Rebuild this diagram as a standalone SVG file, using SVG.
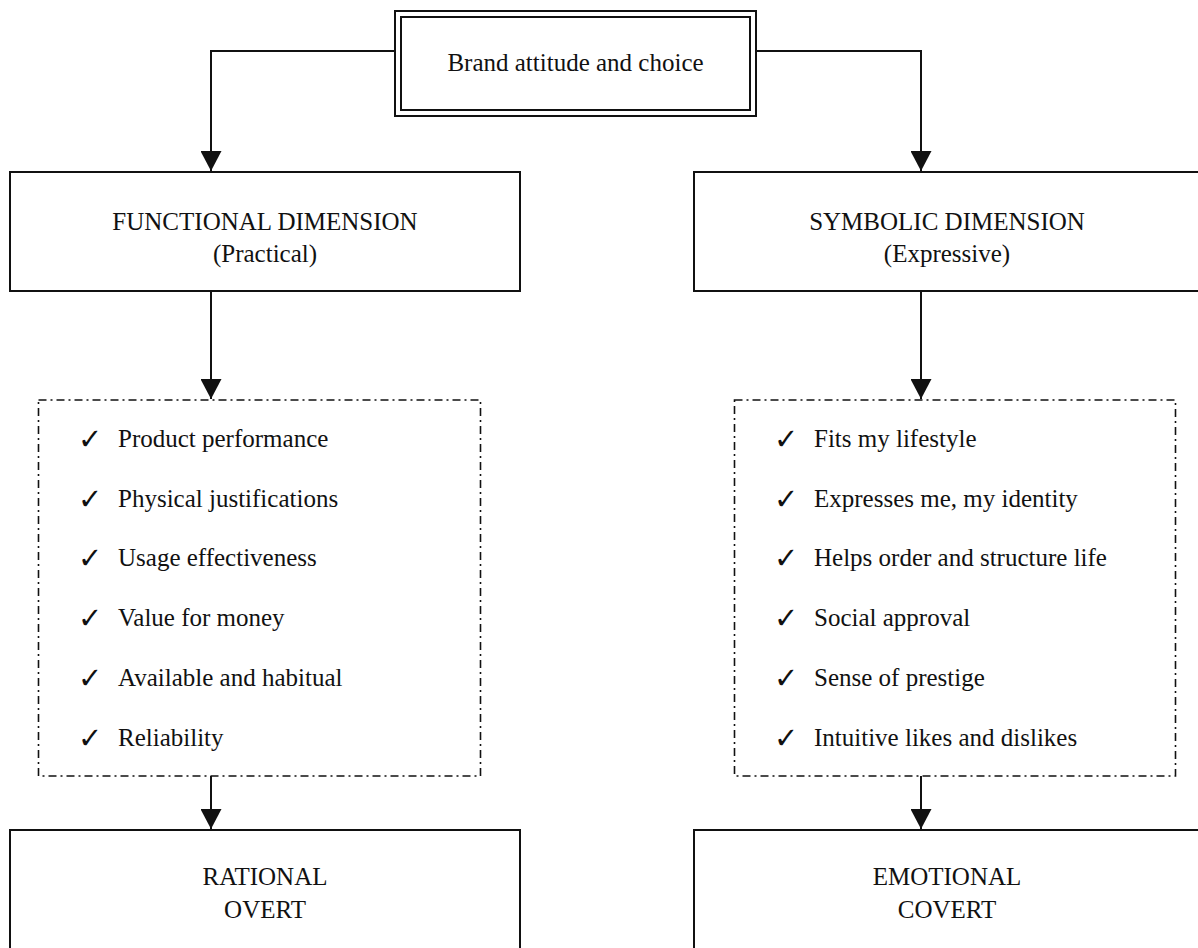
<svg xmlns="http://www.w3.org/2000/svg" width="1198" height="948" viewBox="0 0 1198 948">
<defs>
<style>
.box{fill:#fff;stroke:#111;stroke-width:2}
.dash{fill:none;stroke:#111;stroke-width:1.6;stroke-dasharray:8 4 2 4}
.t{font-family:"Liberation Serif","Times New Roman",serif;font-size:25px;fill:#111}
.c{text-anchor:middle}
.ck{font-family:"DejaVu Sans",sans-serif;font-size:29px;font-weight:bold;fill:#111}
.ln{fill:none;stroke:#111;stroke-width:2}
</style>
<marker id="ah" markerWidth="23" markerHeight="21" refX="21" refY="11" orient="auto" markerUnits="userSpaceOnUse" viewBox="0 0 22 22">
<path d="M0,0 L21,11 L0,22 Z" fill="#111"/>
</marker>
</defs>
<rect width="1198" height="948" fill="#fff"/>
<g id="connectors">
<polyline class="ln" points="395,51 211,51 211,171" marker-end="url(#ah)"/>
<polyline class="ln" points="756,51 921,51 921,171" marker-end="url(#ah)"/>
<line class="ln" x1="211" y1="291" x2="211" y2="399" marker-end="url(#ah)"/>
<line class="ln" x1="921" y1="291" x2="921" y2="399" marker-end="url(#ah)"/>
<line class="ln" x1="211" y1="776" x2="211" y2="829" marker-end="url(#ah)"/>
<line class="ln" x1="921" y1="776" x2="921" y2="829" marker-end="url(#ah)"/>
</g>
<g id="top">
<rect class="box" x="395" y="11" width="361" height="105"/>
<rect class="box" x="401" y="17" width="349" height="93"/>
<text class="t c" x="575.5" y="71">Brand attitude and choice</text>
</g>
<g id="functional">
<rect class="box" x="10" y="172" width="510" height="119"/>
<text class="t c" x="265" y="230">FUNCTIONAL DIMENSION</text>
<text class="t c" x="265" y="262">(Practical)</text>
</g>
<g id="symbolic">
<rect class="box" x="694" y="172" width="510" height="119"/>
<text class="t c" x="947" y="230">SYMBOLIC DIMENSION</text>
<text class="t c" x="947" y="262">(Expressive)</text>
</g>
<g id="functional-list">
<rect class="dash" x="38.5" y="400" width="442" height="376"/>
<text class="ck" x="78" y="449">✓</text><text class="t" x="118" y="447">Product performance</text>
<text class="ck" x="78" y="509">✓</text><text class="t" x="118" y="507">Physical justifications</text>
<text class="ck" x="78" y="568">✓</text><text class="t" x="118" y="566">Usage effectiveness</text>
<text class="ck" x="78" y="628">✓</text><text class="t" x="118" y="626">Value for money</text>
<text class="ck" x="78" y="688">✓</text><text class="t" x="118" y="686">Available and habitual</text>
<text class="ck" x="78" y="748">✓</text><text class="t" x="118" y="746">Reliability</text>
</g>
<g id="symbolic-list">
<rect class="dash" x="734.5" y="400" width="441" height="376"/>
<text class="ck" x="774" y="449">✓</text><text class="t" x="814" y="447">Fits my lifestyle</text>
<text class="ck" x="774" y="509">✓</text><text class="t" x="814" y="507">Expresses me, my identity</text>
<text class="ck" x="774" y="568">✓</text><text class="t" x="814" y="566">Helps order and structure life</text>
<text class="ck" x="774" y="628">✓</text><text class="t" x="814" y="626">Social approval</text>
<text class="ck" x="774" y="688">✓</text><text class="t" x="814" y="686">Sense of prestige</text>
<text class="ck" x="774" y="748">✓</text><text class="t" x="814" y="746">Intuitive likes and dislikes</text>
</g>
<g id="rational">
<rect class="box" x="10" y="830" width="510" height="140"/>
<text class="t c" x="265" y="885">RATIONAL</text>
<text class="t c" x="265" y="918">OVERT</text>
</g>
<g id="emotional">
<rect class="box" x="694" y="830" width="510" height="140"/>
<text class="t c" x="947" y="885">EMOTIONAL</text>
<text class="t c" x="947" y="918">COVERT</text>
</g>
</svg>
